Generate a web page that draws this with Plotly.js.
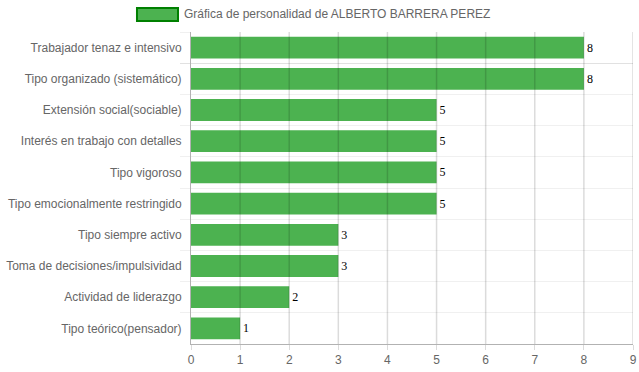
<!DOCTYPE html>
<html>
<head>
<meta charset="utf-8">
<script src="https://cdn.plot.ly/plotly-3.0.1.min.js"></script>
<style>html,body{margin:0;padding:0;background:#fff}#chart{width:639px;height:372px}</style>
</head>
<body>
<div id="chart"></div>
<script>
const categories = [
  "Trabajador tenaz e intensivo",
  "Tipo organizado (sistemático)",
  "Extensión social(sociable)",
  "Interés en trabajo con detalles",
  "Tipo vigoroso",
  "Tipo emocionalmente restringido",
  "Tipo siempre activo",
  "Toma de decisiones/impulsividad",
  "Actividad de liderazgo",
  "Tipo teórico(pensador)"
];
const values = [8, 8, 5, 5, 5, 5, 3, 3, 2, 1];
const seriesName = "Gráfica de personalidad de ALBERTO BARRERA PEREZ";
const xTicks = [0, 1, 2, 3, 4, 5, 6, 7, 8, 9];

const trace = {
  type: "bar",
  orientation: "h",
  y: categories,
  x: values,
  text: values.map(String),
  textposition: "outside",
  cliponaxis: false,
  textfont: {family: "Liberation Serif, serif", size: 12, color: "#000"},
  marker: {color: "rgb(76,178,80)", line: {width: 0}},
  hoverinfo: "none",
  showlegend: false
};

const gridShapes = xTicks.slice(1).map(v => ({
  type: "line", xref: "x", yref: "paper", x0: v, x1: v, y0: 0, y1: 1,
  layer: "above", line: {color: "rgba(0,0,0,0.14)", width: 1.5}
}));

const layout = {
  width: 639, height: 372,
  margin: {l: 191, r: 6, t: 32, b: 28},
  paper_bgcolor: "#fff", plot_bgcolor: "#fff",
  font: {family: "Liberation Sans, Arial, sans-serif", size: 12, color: "#666"},
  bargap: 0.3,
  xaxis: {
    range: [0, 9], tickvals: xTicks, ticktext: xTicks.map(String),
    showgrid: false,
    zeroline: false, showline: true, linecolor: "rgba(0,0,0,0.3)", linewidth: 1,
    ticks: "outside", ticklen: 5, tickcolor: "rgba(0,0,0,0.14)",
    tickfont: {size: 12, color: "#666"}, fixedrange: true
  },
  yaxis: {
    type: "category", autorange: "reversed", tickson: "boundaries",
    showgrid: true, gridcolor: "rgba(0,0,0,0.06)", gridwidth: 1,
    zeroline: false, showline: true, linecolor: "rgba(0,0,0,0.3)", linewidth: 1,
    ticks: "outside", ticklen: 10, tickcolor: "rgba(0,0,0,0.06)",
    ticklabelstandoff: 6,
    tickfont: {size: 12, color: "#666"}, fixedrange: true
  },
  shapes: gridShapes.concat([{
    type: "rect", xref: "paper", yref: "paper",
    x0: -0.1222, x1: -0.0294, y0: 1.0353, y1: 1.0769,
    fillcolor: "rgb(76,178,80)", line: {color: "rgb(0,128,0)", width: 2}
  }]),
  annotations: [{
    xref: "paper", yref: "paper", x: -0.0203, y: 1.0577,
    xanchor: "left", yanchor: "middle", showarrow: false,
    text: seriesName, font: {size: 12, color: "#666"}
  }]
};

Plotly.newPlot("chart", [trace], layout, {displayModeBar: false, staticPlot: true});
</script>
</body>
</html>
